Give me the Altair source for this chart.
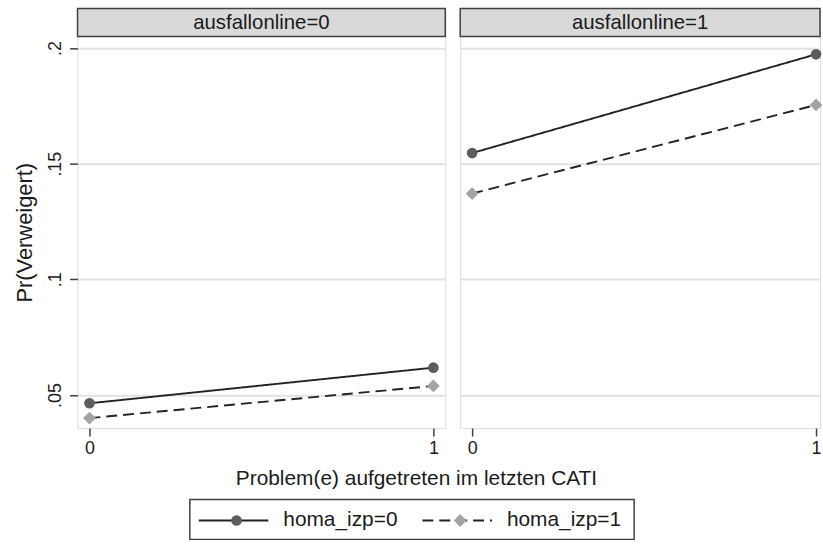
import altair as alt
import pandas as pd

# ---- data ----
problem_x = [0, 1]
panel_labels = ["ausfallonline=0", "ausfallonline=1"]
legend_labels = ["homa_izp=0", "homa_izp=1"]
homa_levels = [0, 1]
pr_online0_homa0 = [0.0464, 0.0618]
pr_online0_homa1 = [0.0400, 0.0539]
pr_online1_homa0 = [0.1546, 0.1973]
pr_online1_homa1 = [0.1371, 0.1754]
y_ticks = [0.05, 0.1, 0.15, 0.2]
x_ticks = [0, 1]
y_title = "Pr(Verweigert)"
x_title = "Problem(e) aufgetreten im letzten CATI"

series = {
    (0, 0): pr_online0_homa0,
    (0, 1): pr_online0_homa1,
    (1, 0): pr_online1_homa0,
    (1, 1): pr_online1_homa1,
}
rows = []
for (online, homa), vals in series.items():
    for x, v in zip(problem_x, vals):
        rows.append({"online": online, "homa": homa, "problem": x, "pr": v})
df = pd.DataFrame(rows)

# ---- layout constants ----
FONT = "Liberation Sans"
TXT = "#1a1a1a"
FRAME = "#404040"
GRID = "#e2e2e2"
LINE = "#222222"
H = 422
HEADER_H = 28
PX_PER_UNIT_X = 346.0
Y_DOMAIN = [0.03569, 0.21706]
DASHES = [[1, 0], [11, 6]]
SHAPES = ["circle", "diamond"]
COLORS = ["#5c5c5c", "#a3a3a3"]
SIZES = [115, 165]


def make_panel(i, width, show_y):
    x_domain = [-12 / PX_PER_UNIT_X, (width - 12) / PX_PER_UNIT_X]
    d = df[df["online"] == i]
    x_enc = alt.X(
        "problem:Q",
        scale=alt.Scale(domain=x_domain, nice=False, zero=False),
        axis=alt.Axis(values=x_ticks, format="d", title=None, grid=False, domain=False,
                      tickSize=8, tickWidth=1.5, tickColor=FRAME, labelFontSize=18,
                      labelPadding=4, labelColor=TXT, labelFlush=False, labelOverlap=False),
    )
    if show_y:
        y_axis = alt.Axis(values=y_ticks, title=y_title, grid=True, gridColor=GRID, gridWidth=2,
                          domain=False, tickSize=8, tickWidth=1.5, tickColor=FRAME,
                          labelExpr="substring(format(datum.value, '.2~f'), 1)",
                          labelAngle=270, labelAlign="center", labelBaseline="bottom",
                          labelFontSize=18, labelPadding=5, labelColor=TXT,
                          titleAngle=270, titleX=-53, titleY=225, titleAlign="center",
                          titleBaseline="middle", titleFontSize=22, titleFontWeight="normal",
                          titleColor=TXT)
    else:
        y_axis = alt.Axis(values=y_ticks, title=None, grid=True, gridColor=GRID, gridWidth=2,
                          labels=False, ticks=False, domain=False)
    y_enc = alt.Y("pr:Q", scale=alt.Scale(domain=Y_DOMAIN, nice=False, zero=False), axis=y_axis)

    base = alt.Chart(d)
    lines = base.mark_line(strokeWidth=1.9, color=LINE).encode(
        x=x_enc, y=y_enc,
        strokeDash=alt.StrokeDash("homa:N", scale=alt.Scale(domain=homa_levels, range=DASHES),
                                  legend=None),
    )
    points = base.mark_point(filled=True, opacity=1).encode(
        x=x_enc, y=y_enc,
        shape=alt.Shape("homa:N", scale=alt.Scale(domain=homa_levels, range=SHAPES), legend=None),
        color=alt.Color("homa:N", scale=alt.Scale(domain=homa_levels, range=COLORS), legend=None),
        size=alt.Size("homa:O", scale=alt.Scale(domain=homa_levels, range=SIZES), legend=None),
    )
    hdr_df = pd.DataFrame({"label": [panel_labels[i]]})
    hdr_rect = alt.Chart(hdr_df).mark_rect(fill="#d9d9d9", stroke=FRAME, strokeWidth=1.5).encode(
        x=alt.value(0), x2=alt.value(width), y=alt.value(0), y2=alt.value(HEADER_H)
    )
    hdr_text = alt.Chart(hdr_df).mark_text(fontSize=20.5, baseline="middle", align="center", color=TXT).encode(
        x=alt.value(width / 2), y=alt.value(HEADER_H / 2 + 0.5), text="label:N"
    )
    layers = [lines, points, hdr_rect, hdr_text]

    if show_y:
        # x-axis title and legend, drawn below the left panel
        xt = alt.Chart(pd.DataFrame({"t": [x_title]})).mark_text(
            fontSize=21, align="center", baseline="middle", color=TXT
        ).encode(x=alt.value(341), y=alt.value(473), text="t:N")
        box = alt.Chart(pd.DataFrame({"a": [0]})).mark_rect(fill="white", stroke=FRAME, strokeWidth=1.5).encode(
            x=alt.value(113), x2=alt.value(560), y=alt.value(494), y2=alt.value(534)
        )
        layers += [xt, box]
        item_x = [122, 347]
        for k, lab in enumerate(legend_labels):
            ld = pd.DataFrame({"label": [lab]})
            x0 = item_x[k]
            layers.append(alt.Chart(ld).mark_rule(color=LINE, strokeWidth=1.9, strokeDash=DASHES[k]).encode(
                x=alt.value(x0), x2=alt.value(x0 + 70), y=alt.value(515)))
            layers.append(alt.Chart(ld).mark_point(filled=True, opacity=1, shape=SHAPES[k], color=COLORS[k],
                                                  size=SIZES[k]).encode(x=alt.value(x0 + 38), y=alt.value(515)))
            layers.append(alt.Chart(ld).mark_text(fontSize=21, align="left", baseline="middle", color=TXT).encode(
                x=alt.value(x0 + 85), y=alt.value(515), text="label:N"))

    return alt.layer(*layers).properties(width=width, height=H)


p0 = make_panel(0, 370, True)
p1 = make_panel(1, 362, False)

chart = alt.hconcat(p0, p1, spacing=15, bounds="flush").properties(
    padding={"left": 13, "top": 5, "right": 0, "bottom": 2}
).configure_view(stroke=FRAME, strokeWidth=1.5).configure(font=FONT, background="white")

chart.save("out.html", embed_options={"renderer": "svg", "actions": False})
